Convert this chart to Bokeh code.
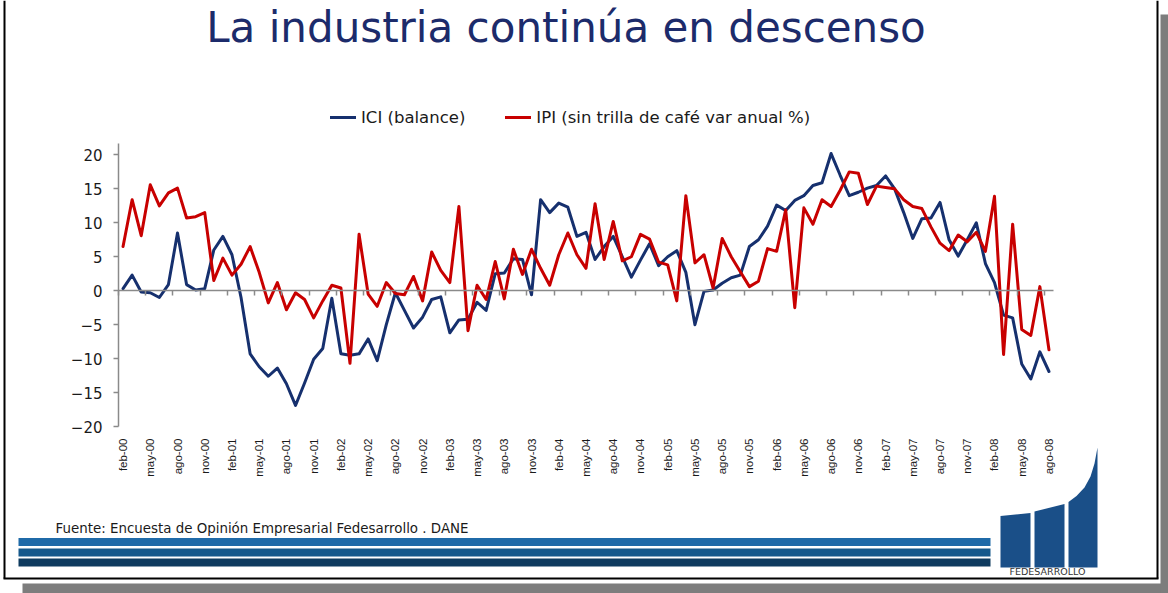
import math
from bokeh.plotting import figure
from bokeh.models import Range1d, FixedTicker, Legend, LegendItem, LinearAxis
from bokeh.core.properties import value
from bokeh.embed import file_html
from bokeh.resources import INLINE

# ---------------- data ----------------
tick_labels = ["feb-00", "may-00", "ago-00", "nov-00", "feb-01", "may-01", "ago-01", "nov-01",
               "feb-02", "may-02", "ago-02", "nov-02", "feb-03", "may-03", "ago-03", "nov-03",
               "feb-04", "may-04", "ago-04", "nov-04", "feb-05", "may-05", "ago-05", "nov-05",
               "feb-06", "may-06", "ago-06", "nov-06", "feb-07", "may-07", "ago-07", "nov-07",
               "feb-08", "may-08", "ago-08"]

ici = [0.3, 2.3, -0.2, -0.3, -1.0, 0.9, 8.5, 0.9, 0.1, 0.3,
       6.0, 8.0, 5.3, -1.0, -9.3, -11.2, -12.6, -11.4, -13.7, -16.9,
       -13.6, -10.1, -8.5, -1.1, -9.3, -9.5, -9.3, -7.1, -10.3, -5.0,
       -0.3, -2.9, -5.5, -3.9, -1.3, -0.9, -6.2, -4.3, -4.2, -1.7,
       -2.9, 2.5, 2.6, 4.7, 4.6, -0.6, 13.4, 11.5, 12.9, 12.3,
       8.0, 8.6, 4.6, 6.5, 8.0, 5.0, 2.0, 4.5, 6.9, 3.7,
       5.0, 5.9, 2.7, -5.0, -0.1, 0.1, 1.1, 1.9, 2.3, 6.5,
       7.5, 9.5, 12.6, 11.8, 13.3, 14.0, 15.5, 15.9, 20.2, 17.0,
       14.0, 14.5, 15.1, 15.5, 16.9, 15.0, 11.5, 7.7, 10.6, 10.7,
       13.0, 7.5, 5.1, 7.5, 10.0, 4.0, 1.2, -3.6, -4.0, -10.8,
       -13.0, -9.0, -11.9]

ipi = [6.5, 13.4, 8.1, 15.6, 12.5, 14.4, 15.1, 10.7, 10.9, 11.5,
       1.5, 4.8, 2.3, 3.9, 6.5, 2.7, -1.8, 1.2, -2.8, -0.3,
       -1.3, -4.0, -1.5, 0.8, 0.4, -10.7, 8.3, -0.5, -2.3, 1.2,
       -0.4, -0.6, 2.1, -1.5, 5.7, 3.0, 1.2, 12.4, -5.9, 0.8,
       -1.3, 4.3, -1.2, 6.1, 2.4, 6.1, 3.3, 0.8, 5.3, 8.5,
       5.3, 3.3, 12.8, 4.6, 10.2, 4.4, 5.0, 8.3, 7.6, 4.2,
       3.8, -1.5, 14.0, 4.1, 5.3, 0.4, 7.7, 5.0, 2.8, 0.6,
       1.4, 6.2, 5.8, 11.9, -2.5, 12.2, 9.8, 13.4, 12.4, 14.8,
       17.5, 17.3, 12.7, 15.4, 15.2, 15.0, 13.4, 12.4, 12.1, 9.4,
       7.0, 5.9, 8.2, 7.2, 8.6, 5.8, 13.9, -9.4, 9.8, -5.7,
       -6.6, 0.6, -8.7]

series_names = ["ICI (balance)", "IPI (sin trilla de café var anual %)"]
y_ticks = [-20, -15, -10, -5, 0, 5, 10, 15, 20]
title_text = "La industria continúa en descenso"
source_text = "Fuente: Encuesta de Opinión Empresarial Fedesarrollo . DANE"
logo_text = "FEDESARROLLO"

months = list(range(len(ici)))
label_pos = [3 * k for k in range(len(tick_labels))]
boundaries = [3 * k - 0.5 for k in range(0, len(tick_labels))]

# ---------------- style / layout ----------------
NAVY = "#16306e"
RED = "#c80000"
GRAY = "#8a8a8a"
TITLE_C = "#1c2b6b"
LOGO = "#1a4f88"
W, H = 1168, 593
# plot area in page pixels
FL, FR, FT, FB = 118, 1053, 143, 426
X0, X1 = -0.5, 102.5
Y0, Y1 = -20, 21.68
kx = (FR - FL) / (X1 - X0)
ky = (FB - FT) / (Y1 - Y0)
x_range = Range1d(X0 - FL / kx, X1 + (W - FR) / kx)
y_range = Range1d(Y0 - (H - FB) / ky, Y1 + FT / ky)

p = figure(width=W, height=H, x_range=x_range, y_range=y_range,
           output_backend="svg", toolbar_location=None,
           x_axis_location=None, y_axis_location=None,
           min_border=0, min_border_left=0, min_border_right=0,
           min_border_top=0, min_border_bottom=0)
p.outline_line_color = None
p.background_fill_color = "white"
p.border_fill_color = "white"
p.xgrid.visible = False
p.ygrid.visible = False
p.extra_x_ranges = {"px": Range1d(0, W)}
p.extra_y_ranges = {"px": Range1d(H, 0)}
PX = dict(x_range_name="px", y_range_name="px")

# ---------- slide decorations (pixel space) ----------
p.quad(left=[22, 1160], right=[1168, 1168], top=[583, 14], bottom=[593, 593],
       fill_color="#7d7d7d", line_color=None, **PX)
p.quad(left=[1156, 3, 3], right=[1158, 1158, 5], top=[0, 577, 0], bottom=[578, 579, 578],
       fill_color="#000000", line_color=None, **PX)

p.text(x=[565.5], y=[27], text=[title_text], text_align="center", text_baseline="alphabetic",
       text_font=value("DejaVu Sans"), text_font_size="42px", text_color=TITLE_C, **PX)

p.text(x=[55], y=[527.5], text=[source_text], text_align="left", text_baseline="alphabetic",
       text_font=value("DejaVu Sans"), text_font_size="13.4px", text_color="#1a1a1a", **PX)

p.quad(left=[18, 18, 18], right=[990, 990, 990], top=[537.5, 548, 558], bottom=[545.5, 556, 566],
       fill_color=["#1f6aa8", "#15588b", "#0e3b5f"], line_color=None, **PX)

p.patches(xs=[[1000, 1030, 1030, 1000],
              [1034, 1064, 1064, 1034],
              [1068, 1097, 1097, 1094, 1090, 1084, 1076, 1068]],
          ys=[[567, 567, 512.5, 515.5],
              [567, 567, 503.5, 511],
              [567, 567, 447, 463, 476, 487, 495.5, 501.5]],
          fill_color=LOGO, line_color=None, **PX)
p.text(x=[1047], y=[571], text=[logo_text], text_align="center", text_baseline="alphabetic",
       text_font=value("DejaVu Sans"), text_font_size="9.5px", text_color="#333333", **PX)

# ---------- axes ----------
ya = LinearAxis(fixed_location=X0, bounds=(Y0, Y1), ticker=FixedTicker(ticks=y_ticks))
ya.axis_line_color = GRAY
ya.axis_line_width = 1.5
ya.major_tick_line_color = GRAY
ya.major_tick_line_width = 1.5
ya.major_tick_out = 5
ya.major_tick_in = 0
ya.minor_tick_line_color = None
ya.major_label_standoff = 11
ya.major_label_text_font = "DejaVu Sans"
ya.major_label_text_font_size = "15px"
ya.major_label_text_color = "#1a1a1a"
p.add_layout(ya, "left")

# category labels placed low (at the bottom of the plot area)
xa = LinearAxis(fixed_location=Y0, bounds=(X0, X1), ticker=FixedTicker(ticks=label_pos))
xa.major_label_overrides = {pos: lab for pos, lab in zip(label_pos, tick_labels)}
xa.major_label_orientation = math.pi / 2
xa.axis_line_color = None
xa.major_tick_line_color = None
xa.major_tick_out = 0
xa.major_tick_in = 0
xa.minor_tick_line_color = None
xa.major_label_standoff = 12
xa.major_label_text_font = "Liberation Sans"
xa.major_label_text_font_size = "11.5px"
xa.major_label_text_color = "#1a1a1a"
p.add_layout(xa, "below")

# horizontal axis line crossing at zero, with tick marks between categories
za = LinearAxis(fixed_location=0, bounds=(X0, X1), ticker=FixedTicker(ticks=boundaries))
za.axis_line_color = GRAY
za.axis_line_width = 1.5
za.major_tick_line_color = GRAY
za.major_tick_line_width = 1.5
za.major_tick_out = 5
za.major_tick_in = 0
za.minor_tick_line_color = None
za.major_label_text_font_size = "0px"
za.major_label_text_alpha = 0
p.add_layout(za, "below")

# ---------- series ----------
r1 = p.line(months, ici, line_color=NAVY, line_width=3, line_join="round", line_cap="round")
r2 = p.line(months, ipi, line_color=RED, line_width=3, line_join="round", line_cap="round")

legend = Legend(items=[LegendItem(label=series_names[0], renderers=[r1]),
                       LegendItem(label=series_names[1], renderers=[r2])],
                location=(330, H - 127), orientation="horizontal",
                glyph_width=26, glyph_height=20, label_standoff=5, spacing=40,
                padding=0, margin=0, border_line_color=None, background_fill_alpha=0,
                label_text_font="DejaVu Sans", label_text_font_size="16.5px",
                label_text_color="#1a1a1a", label_height=20)
p.add_layout(legend)

open("out.html", "w").write(file_html(p, INLINE))
